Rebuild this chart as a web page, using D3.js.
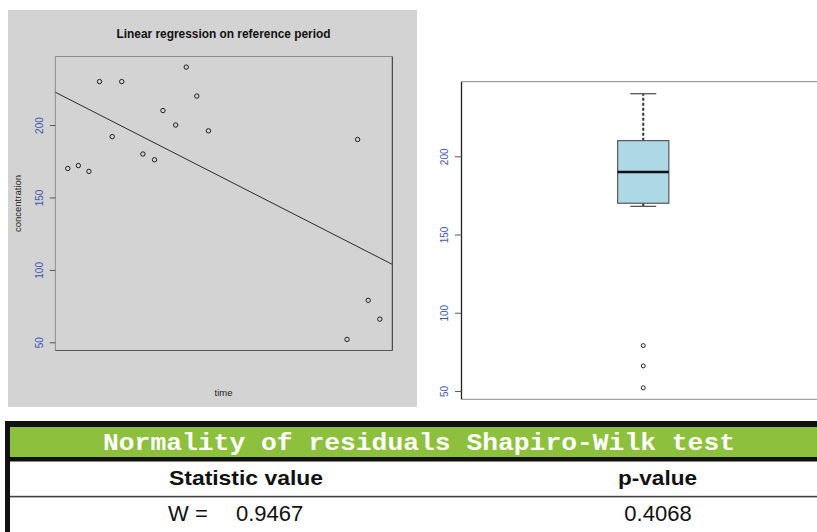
<!DOCTYPE html>
<html>
<head>
<meta charset="utf-8">
<script src="https://cdn.jsdelivr.net/npm/d3@7"></script>
<style>
  body { margin: 0; background: #fff; }
  svg { display: block; }
  text { font-family: "Liberation Sans", Arial, sans-serif; }
</style>
</head>
<body>
<svg id="chart" width="817" height="532"></svg>
<script>
// Observations in the reference period
const time = [0, 1, 2, 3, 4.2, 5.1, 7.1, 8.2, 9, 10.2, 11.2, 12.2, 13.3, 26.4, 27.4, 28.4, 29.5];
const concentration = [170, 172, 168, 230, 192, 230, 180, 176, 210, 200, 240, 220, 196, 52, 190, 79, 66];
const yTicks = [50, 100, 150, 200];

// Shapiro-Wilk summary table
const tableTitle = "Normality of residuals Shapiro-Wilk test";
const tableHeaders = ["Statistic value", "p-value"];
const statLabel = "W =";
const statValue = "0.9467";
const pValue = "0.4068";

const svg = d3.select("#chart");
const tickBlue = "#3d56b2";

// R-style axis limits: data range extended by 4% on each side
function padded(values) {
  const [lo, hi] = d3.extent(values);
  const pad = (hi - lo) * 0.04;
  return [lo - pad, hi + pad];
}
const yDomain = padded(concentration);

// ---------------- Left panel: scatter + least-squares line ----------------
const left = svg.append("g");
left.append("rect").attr("x", 8).attr("y", 10).attr("width", 409).attr("height", 397).attr("fill", "#d3d3d3");

const plotL = { x0: 55.3, x1: 392.3, y0: 56.5, y1: 350.5 };
const x = d3.scaleLinear().domain(padded(time)).range([plotL.x0, plotL.x1]);
const yL = d3.scaleLinear().domain(yDomain).range([350.3, 56.2]);

left.append("defs").append("clipPath").attr("id", "clipL")
  .append("rect").attr("x", plotL.x0).attr("y", plotL.y0)
  .attr("width", plotL.x1 - plotL.x0).attr("height", plotL.y1 - plotL.y0);

// frame: lighter top/left, darker right/bottom
left.append("line").attr("x1", plotL.x0).attr("x2", plotL.x1).attr("y1", plotL.y0).attr("y2", plotL.y0).attr("stroke", "#8c8c8c");
left.append("line").attr("x1", plotL.x0).attr("x2", plotL.x0).attr("y1", plotL.y0).attr("y2", plotL.y1).attr("stroke", "#8c8c8c");
left.append("line").attr("x1", plotL.x1).attr("x2", plotL.x1).attr("y1", plotL.y0).attr("y2", plotL.y1).attr("stroke", "#2a2a2a");
left.append("line").attr("x1", plotL.x0).attr("x2", plotL.x1).attr("y1", plotL.y1).attr("y2", plotL.y1).attr("stroke", "#555");

function styleYAxis(g, labelOffset) {
  g.select(".domain").remove();
  g.selectAll(".tick line").attr("stroke", "#555");
  g.selectAll(".tick text")
    .attr("x", null).attr("dy", "0.35em")
    .attr("transform", `translate(${-labelOffset},0) rotate(-90)`)
    .attr("text-anchor", "middle")
    .attr("fill", tickBlue)
    .style("font-size", "10px");
}

left.append("g").attr("transform", `translate(${plotL.x0},0)`)
  .call(d3.axisLeft(yL).tickValues(yTicks).tickSize(5.5).tickFormat(d3.format("d")))
  .call(g => styleYAxis(g, 15.5));

// least-squares fit
const mx = d3.mean(time), my = d3.mean(concentration);
const sxy = d3.sum(time, (t, i) => (t - mx) * (concentration[i] - my));
const sxx = d3.sum(time, t => (t - mx) ** 2);
const slope = sxy / sxx, intercept = my - slope * mx;
const fit = x.domain().map(t => [t, intercept + slope * t]);

left.append("path")
  .attr("clip-path", "url(#clipL)")
  .attr("d", d3.line().x(d => x(d[0])).y(d => yL(d[1]))(fit))
  .attr("fill", "none").attr("stroke", "#2b2b2b").attr("stroke-width", 1);

left.append("g").selectAll("circle")
  .data(time.map((t, i) => [t, concentration[i]]))
  .join("circle")
  .attr("cx", d => x(d[0])).attr("cy", d => yL(d[1])).attr("r", 2.2)
  .attr("fill", "none").attr("stroke", "#1e1e1e").attr("stroke-width", 1);

left.append("text").attr("x", 223.5).attr("y", 38.3).attr("text-anchor", "middle")
  .style("font-size", "11.9px").style("font-weight", "bold").attr("fill", "#111")
  .text("Linear regression on reference period");
left.append("text").attr("x", 223.5).attr("y", 395.5).attr("text-anchor", "middle")
  .style("font-size", "9.5px").attr("fill", "#222").text("time");
left.append("text").attr("transform", "translate(20.5,203.5) rotate(-90)").attr("text-anchor", "middle")
  .style("font-size", "9.5px").attr("fill", "#222").text("concentration");

// ---------------- Right panel: boxplot ----------------
const right = svg.append("g");
const plotR = { x0: 461.5, x1: 825, y0: 81.7, y1: 399.3 };
const yR = d3.scaleLinear().domain(yDomain).range([399.6, 81.95]);
const xR = d3.scalePoint().domain(["concentration"]).range([plotR.x0, plotR.x1]).padding(0.5);

right.append("line").attr("x1", plotR.x0).attr("x2", plotR.x1).attr("y1", plotR.y0).attr("y2", plotR.y0).attr("stroke", "#8c8c8c");
right.append("line").attr("x1", plotR.x0).attr("x2", plotR.x1).attr("y1", plotR.y1).attr("y2", plotR.y1).attr("stroke", "#8c8c8c");
right.append("line").attr("x1", plotR.x0).attr("x2", plotR.x0).attr("y1", plotR.y0).attr("y2", plotR.y1).attr("stroke", "#222").attr("stroke-width", 1.3);

right.append("g").attr("transform", `translate(${plotR.x0},0)`)
  .call(d3.axisLeft(yR).tickValues(yTicks).tickSize(6.5).tickFormat(d3.format("d")))
  .call(g => styleYAxis(g, 17.2));

// Tukey box statistics
const sorted = concentration.slice().sort(d3.ascending);
const q1 = d3.quantile(sorted, 0.25), med = d3.quantile(sorted, 0.5), q3 = d3.quantile(sorted, 0.75);
const iqr = q3 - q1;
const inside = sorted.filter(v => v >= q1 - 1.5 * iqr && v <= q3 + 1.5 * iqr);
const wLo = d3.min(inside), wHi = d3.max(inside);
const outliers = sorted.filter(v => v < wLo || v > wHi);

const cx = xR("concentration");
const boxHalf = 25.6, capHalf = 13;

right.append("line").attr("x1", cx).attr("x2", cx).attr("y1", yR(q3)).attr("y2", yR(wHi))
  .attr("stroke", "#333").attr("stroke-width", 2).attr("stroke-dasharray", "3,2");
right.append("line").attr("x1", cx).attr("x2", cx).attr("y1", yR(q1)).attr("y2", yR(wLo))
  .attr("stroke", "#333").attr("stroke-width", 2).attr("stroke-dasharray", "3,2");
[wHi, wLo].forEach(v => right.append("line")
  .attr("x1", cx - capHalf).attr("x2", cx + capHalf).attr("y1", yR(v)).attr("y2", yR(v))
  .attr("stroke", "#555").attr("stroke-width", 1.3));

right.append("rect").attr("x", cx - boxHalf).attr("width", boxHalf * 2)
  .attr("y", yR(q3)).attr("height", yR(q1) - yR(q3))
  .attr("fill", "#add8e6").attr("stroke", "#4a4a4a").attr("stroke-width", 1.1);
right.append("line").attr("x1", cx - boxHalf).attr("x2", cx + boxHalf).attr("y1", yR(med)).attr("y2", yR(med))
  .attr("stroke", "#111").attr("stroke-width", 2.6);

right.append("g").selectAll("circle").data(outliers).join("circle")
  .attr("cx", cx).attr("cy", d => yR(d)).attr("r", 2)
  .attr("fill", "none").attr("stroke", "#222").attr("stroke-width", 1);

// ---------------- Table ----------------
const table = svg.append("g");
table.append("rect").attr("x", 10).attr("y", 427).attr("width", 807).attr("height", 30).attr("fill", "#8dc13d");
table.append("rect").attr("x", 5).attr("y", 421).attr("width", 812).attr("height", 6).attr("fill", "#111");
table.append("rect").attr("x", 5).attr("y", 421).attr("width", 5).attr("height", 111).attr("fill", "#111");
table.append("rect").attr("x", 10).attr("y", 457).attr("width", 807).attr("height", 4.5).attr("fill", "#111");
table.append("rect").attr("x", 10).attr("y", 495.8).attr("width", 807).attr("height", 1.6).attr("fill", "#444");

table.append("text").attr("x", 419).attr("y", 449.5).attr("text-anchor", "middle")
  .style("font-family", "'Liberation Mono', 'Courier New', monospace")
  .style("font-size", "24px").style("font-weight", "bold").attr("fill", "#fff")
  .attr("textLength", 632).attr("lengthAdjust", "spacingAndGlyphs")
  .text(tableTitle);

// condensed header text: left edge and width of each string
const headerBoxes = [[169, 154], [618, 79]];
table.append("g").selectAll("text").data(tableHeaders).join("text")
  .attr("x", (d, i) => headerBoxes[i][0]).attr("y", 485)
  .attr("textLength", (d, i) => headerBoxes[i][1]).attr("lengthAdjust", "spacingAndGlyphs")
  .style("font-size", "21px").style("font-weight", "bold").attr("fill", "#111")
  .text(d => d);

const valueRow = table.append("g").style("font-size", "22px").attr("fill", "#111");
valueRow.append("text").attr("x", 168).attr("y", 520.5).text(statLabel);
valueRow.append("text").attr("x", 236).attr("y", 520.5).text(statValue);
valueRow.append("text").attr("x", 658).attr("y", 520.5).attr("text-anchor", "middle").text(pValue);
</script>
</body>
</html>
